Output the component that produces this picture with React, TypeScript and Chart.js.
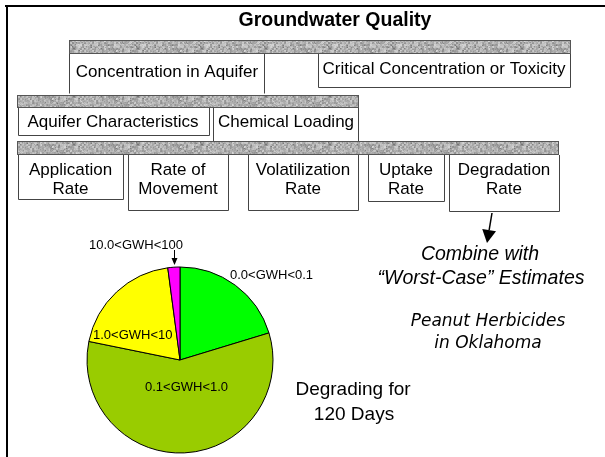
import React, { useEffect, useRef } from "react";
import { Chart, registerables } from "chart.js";

Chart.register(...registerables);

// ---- data ----
const categories = ["0.0<GWH<0.1", "0.1<GWH<1.0", "1.0<GWH<10", "10.0<GWH<100"];
const shares = [20.3, 57.9, 19.7, 2.1];
const sliceColors = ["#00ff00", "#99cc00", "#ffff00", "#ff00ff"];

const title = "Groundwater Quality";
const level1 = ["Concentration in Aquifer", "Critical Concentration or Toxicity"];
const level2 = ["Aquifer Characteristics", "Chemical Loading"];
const level3 = [
  ["Application", "Rate"],
  ["Rate of", "Movement"],
  ["Volatilization", "Rate"],
  ["Uptake", "Rate"],
  ["Degradation", "Rate"],
];
const noteCombine = ["Combine with", "\u201CWorst-Case\u201D Estimates"];
const noteCrop = ["Peanut Herbicides", "in Oklahoma"];
const noteDays = ["Degrading for", "120 Days"];

const SANS = '"Liberation Sans", Arial, sans-serif';

function makeTexture(): HTMLCanvasElement {
  const W = 64, H = 16;
  const c = document.createElement("canvas");
  c.width = W;
  c.height = H;
  const g = c.getContext("2d")!;
  let s = 98765;
  const rnd = () => {
    s = (s * 1103515245 + 12345) & 0x7fffffff;
    return s / 0x7fffffff;
  };
  const base: number[] = [];
  for (let i = 0; i < (W / 2) * (H / 2); i++) base.push(rnd());
  for (let y = 0; y < H; y++) {
    for (let x = 0; x < W; x++) {
      const b = base[Math.floor(y / 2) * (W / 2) + Math.floor(x / 2)];
      const r = rnd();
      let v = 150 + b * 55 + (r - 0.5) * 25;
      if (r > 0.93) v -= 45;
      v = Math.max(90, Math.min(225, Math.round(v)));
      g.fillStyle = `rgb(${v},${v},${v})`;
      g.fillRect(x, y, 1, 1);
    }
  }
  return c;
}

const diagramPlugin = {
  id: "diagram",
  beforeDraw(chart: any) {
    const ctx: CanvasRenderingContext2D = chart.ctx;
    ctx.save();
    ctx.fillStyle = "#ffffff";
    ctx.fillRect(0, 0, chart.width, chart.height);

    // outer frame (top + left)
    ctx.fillStyle = "#000";
    ctx.fillRect(5, 5, 600, 2);
    ctx.fillRect(6, 5, 2, 452);

    // title
    ctx.fillStyle = "#000";
    ctx.textAlign = "center";
    ctx.textBaseline = "middle";
    ctx.font = `bold 19.5px ${SANS}`;
    ctx.fillText(title, 335, 21);

    const tex = makeTexture();
    const pat = ctx.createPattern(tex, "repeat")!;
    const bar = (x1: number, y1: number, x2: number, y2: number) => {
      ctx.fillStyle = pat;
      ctx.fillRect(x1, y1, x2 - x1, y2 - y1);
      ctx.strokeStyle = "#555";
      ctx.lineWidth = 1;
      ctx.strokeRect(x1 + 0.5, y1 + 0.5, x2 - x1 - 1, y2 - y1 - 1);
    };
    const box = (x1: number, y1: number, x2: number, y2: number, bottom: boolean) => {
      ctx.strokeStyle = "#444";
      ctx.lineWidth = 1;
      ctx.beginPath();
      ctx.moveTo(x1 + 0.5, y1);
      ctx.lineTo(x1 + 0.5, y2 + 0.5);
      if (bottom) ctx.lineTo(x2 + 0.5, y2 + 0.5);
      else ctx.moveTo(x2 + 0.5, y2 + 0.5);
      ctx.lineTo(x2 + 0.5, y1);
      ctx.stroke();
    };
    const label = (t: string, x: number, y: number, size = 17) => {
      ctx.fillStyle = "#000";
      ctx.font = `${size}px ${SANS}`;
      ctx.textAlign = "center";
      ctx.textBaseline = "middle";
      ctx.fillText(t, x, y);
    };

    // level 1
    bar(69, 40, 571, 54);
    box(69, 54, 264, 93, false);
    box(318, 54, 570, 87, true);
    label(level1[0], 167, 72);
    label(level1[1], 444, 69);

    // level 2
    bar(17, 95, 359, 108);
    box(18, 108, 209, 135, true);
    box(213, 108, 358, 141, false);
    label(level2[0], 113, 122);
    label(level2[1], 286, 122);

    // level 3
    bar(17, 141, 559, 155);
    const l3 = [
      [18, 123, 199],
      [128, 228, 210],
      [248, 358, 210],
      [368, 444, 201],
      [449, 559, 211],
    ];
    l3.forEach((b, i) => {
      box(b[0], 155, b[1], b[2], true);
      const cx = (b[0] + b[1]) / 2;
      label(level3[i][0], cx, 170);
      label(level3[i][1], cx, 189);
    });

    // arrow from Degradation Rate
    const arrow = (x1: number, y1: number, x2: number, y2: number, head: number, half: number) => {
      const dx = x2 - x1, dy = y2 - y1;
      const len = Math.hypot(dx, dy);
      const ux = dx / len, uy = dy / len;
      const bx = x2 - ux * head, by = y2 - uy * head;
      ctx.strokeStyle = "#000";
      ctx.lineWidth = 1.5;
      ctx.beginPath();
      ctx.moveTo(x1, y1);
      ctx.lineTo(bx, by);
      ctx.stroke();
      ctx.fillStyle = "#000";
      ctx.beginPath();
      ctx.moveTo(x2, y2);
      ctx.lineTo(bx - uy * half, by + ux * half);
      ctx.lineTo(bx + uy * half, by - ux * half);
      ctx.closePath();
      ctx.fill();
    };
    arrow(492, 213, 487, 243, 13, 7);

    // notes
    ctx.fillStyle = "#000";
    ctx.textAlign = "center";
    ctx.textBaseline = "middle";
    ctx.font = `italic 19.5px ${SANS}`;
    ctx.fillText(noteCombine[0], 480, 255);
    ctx.fillText(noteCombine[1], 481, 279);
    ctx.font = `oblique 17px "DejaVu Sans", sans-serif`;
    ctx.fillText(noteCrop[0], 488, 322);
    ctx.fillText(noteCrop[1], 488, 344);
    ctx.font = `19px ${SANS}`;
    ctx.fillText(noteDays[0], 353, 390);
    ctx.fillText(noteDays[1], 354, 415);

    ctx.restore();
  },
  afterDatasetsDraw(chart: any) {
    const ctx: CanvasRenderingContext2D = chart.ctx;
    ctx.save();
    ctx.fillStyle = "#000";
    ctx.font = `13px ${SANS}`;
    ctx.textBaseline = "middle";
    ctx.textAlign = "left";
    ctx.fillText(categories[0], 230, 275);
    ctx.fillText(categories[2], 93, 335);
    ctx.fillText(categories[1], 145, 387);
    ctx.textAlign = "center";
    ctx.fillText(categories[3], 136, 245);
    // small arrow to the thin slice
    ctx.strokeStyle = "#000";
    ctx.lineWidth = 1;
    ctx.beginPath();
    ctx.moveTo(174.5, 250);
    ctx.lineTo(174.5, 259);
    ctx.stroke();
    ctx.beginPath();
    ctx.moveTo(174.5, 265);
    ctx.lineTo(171.5, 258);
    ctx.lineTo(177.5, 258);
    ctx.closePath();
    ctx.fill();
    ctx.restore();
  },
};

export default function App() {
  const ref = useRef<HTMLCanvasElement>(null);
  useEffect(() => {
    const chart = new Chart(ref.current!, {
      type: "pie",
      data: {
        labels: categories,
        datasets: [
          {
            data: shares,
            backgroundColor: sliceColors,
            borderColor: "#000",
            borderWidth: 1,
          },
        ],
      },
      options: {
        responsive: false,
        animation: false,
        devicePixelRatio: 1,
        radius: 93,
        layout: { padding: { left: 87, right: 332, top: 267, bottom: 4 } },
        plugins: {
          legend: { display: false },
          tooltip: { enabled: false },
        },
      } as any,
      plugins: [diagramPlugin],
    });
    return () => chart.destroy();
  }, []);
  return (
    <div style={{ position: "fixed", left: 0, top: 0, width: 605, height: 457, background: "#fff" }}>
      <canvas ref={ref} width={605} height={457} style={{ display: "block" }} />
    </div>
  );
}
